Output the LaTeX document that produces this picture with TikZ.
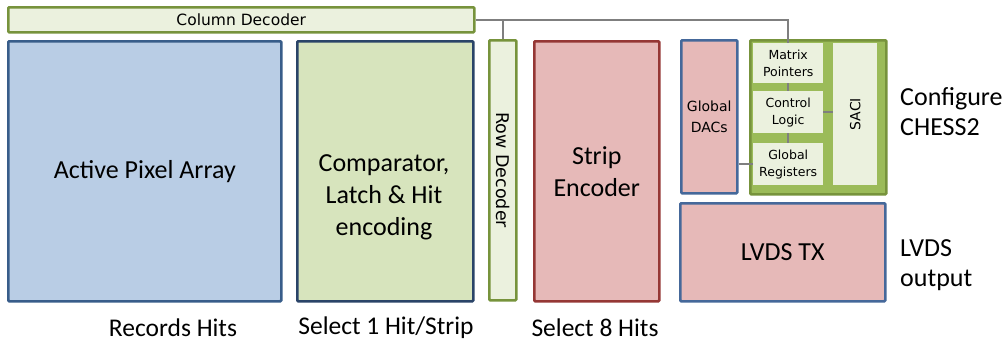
\documentclass[tikz,border=0pt]{standalone}
\usepackage{fontspec}
\setmainfont{Carlito}
\newfontfamily\labelfont{DejaVu Sans}
\usepackage{tikz}
\usetikzlibrary{positioning}

\definecolor{pixelFill}{HTML}{B9CDE5}
\definecolor{pixelDraw}{HTML}{385D8A}
\definecolor{compFill}{HTML}{D7E4BD}
\definecolor{compDraw}{HTML}{2A4468}
\definecolor{decFill}{HTML}{EBF1DE}
\definecolor{decDraw}{HTML}{77933C}
\definecolor{encFill}{HTML}{E6B9B8}
\definecolor{encDraw}{HTML}{953735}
\definecolor{txDraw}{HTML}{45689A}
\definecolor{cfgFill}{HTML}{9BBB59}
\definecolor{wireGray}{HTML}{7F7F7F}

\begin{document}
\begin{tikzpicture}[
    x=1pt, y=-1pt,
    block/.style={
        rectangle,
        rounded corners=1pt,
        line width=2.5pt,
        anchor=north west,
        inner sep=0pt,
        align=center,
        font=\fontsize{26}{32}\selectfont
    },
    cell/.style={
        rectangle,
        fill=decFill,
        anchor=north west,
        inner sep=0pt,
        align=center,
        font=\labelfont\fontsize{12.5}{17}\selectfont
    },
    caption/.style={
        anchor=west,
        align=left,
        inner sep=0pt,
        font=\fontsize{26}{30}\selectfont
    },
    result/.style={
        font=\fontsize{25.5}{30}\selectfont
    },
    wire/.style={
        draw=wireGray,
        line width=1.5pt
    }
]
\useasboundingbox (0,0) rectangle (1007,343);

% === Decoders ===
\node[block, fill=decFill, draw=decDraw, minimum width=466, minimum height=25,
      font=\labelfont\fontsize{15.5}{17}\selectfont] (coldec) at (7,6) {Column Decoder};
\node[block, fill=decFill, draw=decDraw, minimum width=27, minimum height=260] (rowdec) at (488,39) {};
\node[rotate=-90, font=\labelfont\fontsize{17.5}{19}\selectfont] (rowtext) at (rowdec.center) {Row Decoder};

% === Pixel matrix and hit logic ===
\node[block, fill=pixelFill, draw=pixelDraw, minimum width=273, minimum height=260] (pixel) at (7,40) {Active Pixel Array};
\node[block, fill=compFill, draw=compDraw, minimum width=176, minimum height=260] (comp) at (296,40) {};
\node[align=center, font=\fontsize{26}{32}\selectfont] (comptext) at (384,197) {Comparator,\\Latch \& Hit\\encoding};
\node[block, fill=encFill, draw=encDraw, minimum width=125, minimum height=260] (strip) at (533,40) {Strip\\Encoder};

% === Configuration ===
\node[block, fill=encFill, draw=txDraw, minimum width=56, minimum height=153,
      font=\labelfont\fontsize{14}{21}\selectfont] (dacs) at (680,39) {Global\\DACs};
\node[block, fill=cfgFill, draw=decDraw, minimum width=136, minimum height=154] (cfg) at (749,39) {};
\node[cell, minimum width=70, minimum height=40] (mp) at (753,43) {Matrix\\Pointers};
\node[cell, minimum width=70, minimum height=42] (cl) at (753,91) {Control\\Logic};
\node[cell, minimum width=70, minimum height=42] (gr) at (753,143) {Global\\Registers};
\node[cell, minimum width=44, minimum height=142] (saci) at (833,43) {};
\node[rotate=90, font=\labelfont\fontsize{14}{16}\selectfont] (sacitext) at (saci.center) {SACI};

% === Output ===
\node[block, fill=encFill, draw=txDraw, minimum width=205, minimum height=98] (lvds) at (679,202) {LVDS TX};

% === Captions ===
\node[caption] (cfglabel) at (900,112) {Configure\\CHESS2};
\node[caption] (lvdslabel) at (900,265) {LVDS\\output};
\node[result] (pixelcap) at (173,328) {Records Hits};
\node[result] (compcap) at (386,328) {Select 1 Hit/Strip};
\node[result] (stripcap) at (595,328) {Select 8 Hits};

% === Wires ===
\draw[wire] (coldec.east) -| (mp.north);
\draw[wire] (rowdec.north) -- (rowdec.north |- coldec.east);
\draw[wire] (mp.south) -- (cl.north);
\draw[wire] (cl.south) -- (gr.north);
\draw[wire] (cl.east) -- (cl.east -| saci.west);
\draw[wire] (dacs.east |- gr.west) -- (gr.west);
\end{tikzpicture}
\end{document}
